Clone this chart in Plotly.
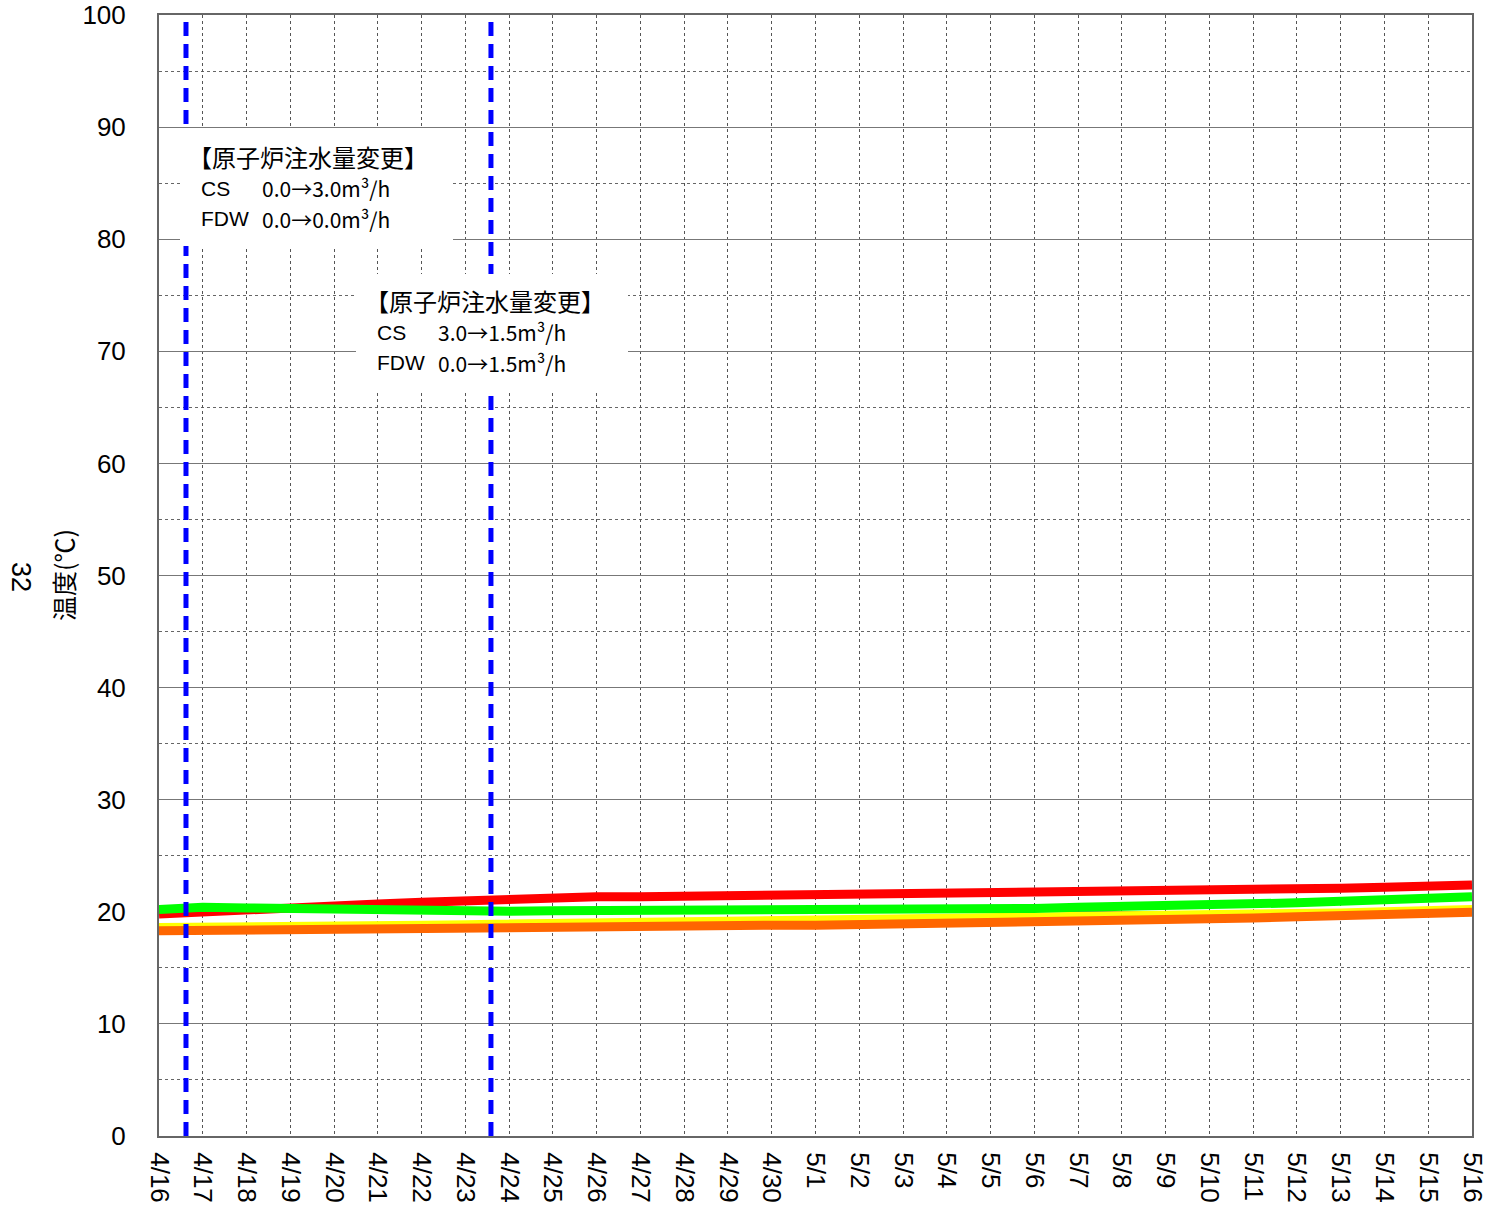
import plotly.graph_objects as go
import pandas as pd

# ---------------- data ----------------
dates = pd.date_range("2011-04-16", "2011-05-16", freq="D")

red = [19.8, 20.0, 20.3, 20.5, 20.6, 20.7, 20.85, 21.0, 21.15, 21.3, 21.35,
       21.35, 21.4, 21.4, 21.45, 21.4, 21.4, 21.45, 21.5, 21.55, 21.6,
       21.7, 21.75, 21.8, 21.85, 21.9, 22.0, 22.1, 22.2, 22.3, 22.4]
green = [20.2, 20.4, 20.35, 20.3, 20.2, 20.05, 20.0, 20.0, 20.05, 20.1, 20.1,
         20.1, 20.1, 20.1, 20.15, 20.1, 20.15, 20.2, 20.2, 20.25, 20.3,
         20.4, 20.45, 20.5, 20.55, 20.65, 20.8, 20.95, 21.1, 21.2, 21.35]
yellow = [18.6, 18.6, 18.65, 18.7, 18.75, 18.75, 18.8, 18.85, 18.9, 18.95, 18.95,
          18.95, 18.95, 19.0, 19.1, 19.1, 19.15, 19.2, 19.25, 19.3, 19.35,
          19.4, 19.45, 19.55, 19.65, 19.7, 19.8, 19.9, 20.0, 20.1, 20.2]
orange = [18.3, 18.35, 18.4, 18.45, 18.5, 18.5, 18.55, 18.6, 18.65, 18.7, 18.7,
          18.7, 18.7, 18.75, 18.8, 18.8, 18.85, 18.9, 18.95, 19.0, 19.1,
          19.15, 19.2, 19.3, 19.4, 19.45, 19.55, 19.65, 19.75, 19.85, 19.95]

event_times = ["2011-04-16 14:48", "2011-04-23 14:02"]
event_titles = ["【原子炉注水量変更】", "【原子炉注水量変更】"]
event_cs = ["0.0→3.0m³/h", "3.0→1.5m³/h"]
event_fdw = ["0.0→0.0m³/h", "0.0→1.5m³/h"]

y_ticks = list(range(0, 101, 10))

# ---------------- figure ----------------
W, H = 1486, 1220
L, R, T, B = 159, 14, 15, 84
pw, ph = W - L - R, H - T - B


def px(x):  # page pixel -> paper fraction
    return (x - L) / pw


def py(y):
    return (H - B - y) / ph


fig = go.Figure()

series = [("yellow", yellow, "#FFFF00"), ("orange", orange, "#FF6600"),
          ("red", red, "#FF0000"), ("green", green, "#00FF00")]
for name, vals, col in series:
    fig.add_trace(go.Scatter(x=dates, y=vals, mode="lines", name=name,
                             line=dict(color=col, width=9), showlegend=False))

for t in event_times:
    fig.add_trace(go.Scatter(x=[t, t], y=[0, 100], mode="lines", showlegend=False,
                             line=dict(color="#0000FF", width=5, dash="14px,8px")))

# white boxes behind the event notes
boxes = [(180, 128, 453, 246), (356, 274, 628, 393)]
for (x0, y0, x1, y1) in boxes:
    fig.add_shape(type="rect", xref="paper", yref="paper", layer="above",
                  x0=px(x0), x1=px(x1), y0=py(y1), y1=py(y0),
                  fillcolor="white", line=dict(width=0))

notes_pos = [(186, 199, 260, 156, 188, 219), (363, 375, 436, 300, 332, 363)]
tfont = dict(family="Noto Sans CJK JP", size=24, color="black")
lfont = dict(family="Liberation Sans", size=21, color="black")
vfont = dict(family="Noto Sans CJK JP", size=21, color="black")
for i, (xt, xl, xv, y1, y2, y3) in enumerate(notes_pos):
    fig.add_annotation(x=px(xt), y=py(y1), xref="paper", yref="paper", text=event_titles[i],
                       showarrow=False, xanchor="left", yanchor="middle", font=tfont)
    fig.add_annotation(x=px(xl), y=py(y2), xref="paper", yref="paper", text="CS",
                       showarrow=False, xanchor="left", yanchor="middle", font=lfont)
    fig.add_annotation(x=px(xv), y=py(y2), xref="paper", yref="paper", text=event_cs[i],
                       showarrow=False, xanchor="left", yanchor="middle", font=vfont)
    fig.add_annotation(x=px(xl), y=py(y3), xref="paper", yref="paper", text="FDW",
                       showarrow=False, xanchor="left", yanchor="middle", font=lfont)
    fig.add_annotation(x=px(xv), y=py(y3), xref="paper", yref="paper", text=event_fdw[i],
                       showarrow=False, xanchor="left", yanchor="middle", font=vfont)

# axis titles
fig.add_annotation(x=px(63), y=py(575), xref="paper", yref="paper", text="温度(℃)",
                   showarrow=False, textangle=-90, xanchor="center", yanchor="middle",
                   font=dict(family="Noto Sans CJK JP", size=25, color="black"))
fig.add_annotation(x=px(21), y=py(577), xref="paper", yref="paper", text="32",
                   showarrow=False, textangle=90, xanchor="center", yanchor="middle",
                   font=dict(family="Liberation Sans", size=27, color="black"))

tickfont = dict(family="Liberation Sans", size=26, color="black")
fig.update_layout(
    width=W, height=H,
    margin=dict(l=L, r=R, t=T, b=B, pad=0),
    paper_bgcolor="white", plot_bgcolor="white",
    xaxis=dict(type="date", range=["2011-04-16", "2011-05-16"],
               dtick=86400000, tick0="2011-04-16", tickformat="%-m/%-d",
               tickangle=90, tickfont=tickfont, ticklabelstandoff=9,
               ticklabeloverflow="allow", automargin=False,
               showgrid=True, gridcolor="#555555", gridwidth=1, griddash="dot",
               showline=True, linecolor="#666666", linewidth=2, mirror=True,
               zeroline=False, ticks=""),
    yaxis=dict(range=[0, 100], tickvals=y_ticks, tickfont=tickfont,
               ticklabelstandoff=26, ticklabeloverflow="allow", automargin=False,
               showgrid=True, gridcolor="#777777", gridwidth=1,
               minor=dict(dtick=5, showgrid=True, gridcolor="#666666", griddash="dot", gridwidth=1),
               showline=True, linecolor="#666666", linewidth=2, mirror=True,
               zeroline=False, ticks=""),
)

fig.write_html("out.html", config={"displayModeBar": False},
               post_script="document.body.style.margin='0';document.body.style.overflow='hidden';")
